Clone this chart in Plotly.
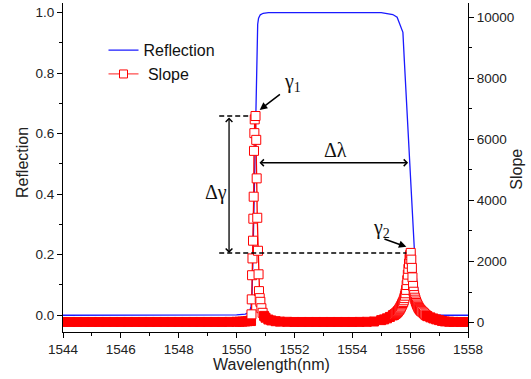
import plotly.graph_objects as go

# ---------------- data ----------------
refl_wl = [1544.0, 1549.0, 1550.0, 1550.3, 1550.45, 1550.50, 1550.53, 1550.56, 1550.60,
           1550.64, 1550.68, 1550.695, 1550.71, 1550.73, 1550.76, 1550.82, 1550.92, 1551.1,
           1555.0, 1555.2, 1555.4, 1555.55, 1555.64, 1555.75, 1555.80, 1555.85, 1555.90,
           1555.95, 1556.00, 1556.05, 1556.10, 1556.15, 1556.22, 1556.30, 1556.40, 1556.50,
           1556.60, 1556.75, 1558.0]
reflection = [0.0, 0.0, 0.001, 0.004, 0.01, 0.03, 0.06, 0.16, 0.35,
              0.53, 0.70, 0.82, 0.92, 0.962, 0.982, 0.993, 0.998, 1.0,
              1.0, 0.998, 0.994, 0.985, 0.963, 0.935, 0.84, 0.745, 0.65,
              0.555, 0.47, 0.40, 0.29, 0.21, 0.12, 0.06, 0.025, 0.01,
              0.003, 0.0, 0.0]

slope_wl = [1544.00, 1544.25, 1544.50, 1544.75, 1545.00, 1545.25, 1545.50, 1545.75,
            1546.00, 1546.25, 1546.50, 1546.75, 1547.00, 1547.25, 1547.50, 1547.75,
            1548.00, 1548.25, 1548.50, 1548.75, 1549.00, 1549.25, 1549.50, 1549.75,
            1550.00, 1550.10, 1550.20, 1550.30, 1550.38, 1550.44, 1550.48,
            1550.500, 1550.515, 1550.525, 1550.535, 1550.550, 1550.568, 1550.580,
            1550.592, 1550.602, 1550.615, 1550.628, 1550.655, 1550.680, 1550.695,
            1550.715, 1550.740, 1550.760, 1550.775, 1550.800, 1550.823, 1550.858,
            1550.90, 1550.95, 1551.00, 1551.10, 1551.20, 1551.35, 1551.50, 1551.75,
            1552.00, 1552.25, 1552.50, 1552.75, 1553.00, 1553.25, 1553.50, 1553.75,
            1554.00, 1554.25, 1554.50, 1554.75, 1555.00, 1555.10, 1555.20, 1555.30,
            1555.40, 1555.42, 1555.44, 1555.46, 1555.48, 1555.50, 1555.52, 1555.54,
            1555.56, 1555.58, 1555.60, 1555.62, 1555.64, 1555.66, 1555.68, 1555.70,
            1555.72, 1555.74, 1555.76, 1555.78, 1555.80, 1555.82, 1555.84, 1555.86,
            1555.88, 1555.90, 1555.92, 1555.94, 1555.96, 1555.98, 1556.00, 1556.02,
            1556.04, 1556.06, 1556.08, 1556.10, 1556.12, 1556.14, 1556.16, 1556.18,
            1556.20, 1556.22, 1556.24, 1556.26, 1556.28, 1556.30, 1556.32, 1556.34,
            1556.36, 1556.38, 1556.40, 1556.44, 1556.48, 1556.52, 1556.56, 1556.60,
            1556.70, 1556.80, 1556.90, 1557.00, 1557.10, 1557.20, 1557.35, 1557.50,
            1557.75, 1558.00]
slope = [20, 20, 20, 20, 20, 20, 20, 20,
         20, 20, 20, 20, 20, 20, 20, 20,
         20, 20, 20, 20, 20, 20, 20, 22,
         25, 28, 32, 38, 45, 55, 60,
         50, 270, 760, 1550, 2100, 2680, 3400,
         4120, 5620, 6200, 6650, 6760, 5980, 4720,
         3430, 2350, 1580, 1030, 800, 680, 470,
         320, 220, 160, 100, 70, 45, 32, 25,
         20, 20, 20, 20, 20, 20, 20, 20,
         20, 22, 25, 36, 80, 105, 140, 185,
         235, 245, 255, 265, 280, 295, 310, 330,
         350, 372, 396, 420, 450, 485, 520, 560,
         600, 640, 675, 730, 800, 880, 960, 1070,
         1230, 1390, 1570, 1760, 1930, 2090, 2210, 2280,
         2060, 1790, 1480, 1200, 1010, 900, 815, 750,
         690, 640, 595, 555, 515, 480, 450, 425,
         405, 385, 365, 335, 300, 262, 232, 210,
         170, 135, 105, 80, 55, 38, 28, 22,
         20, 20]

x_tick_vals = [1544, 1546, 1548, 1550, 1552, 1554, 1556, 1558]
refl_tick_vals = [0.0, 0.2, 0.4, 0.6, 0.8, 1.0]
slope_tick_vals = [0, 2000, 4000, 6000, 8000, 10000]

# ---------------- derived quantities ----------------
peak1_i = max(range(0, 60), key=lambda i: slope[i])
peak2_i = max(range(60, len(slope)), key=lambda i: slope[i])
p1x, p1y = slope_wl[peak1_i], slope[peak1_i]
p2x, p2y = slope_wl[peak2_i], slope[peak2_i]

RED = "#ff0000"
fills = [RED if v < 260 else "white" for v in slope]

fig = go.Figure()
fig.add_trace(go.Scatter(
    x=refl_wl, y=reflection, mode="lines", name="Reflection",
    line=dict(color="#1a1aff", width=1.3)))
fig.add_trace(go.Scatter(
    x=slope_wl, y=slope, yaxis="y2", mode="lines+markers", showlegend=False,
    line=dict(color=RED, width=1.3),
    marker=dict(symbol="square", size=9, color=fills, line=dict(color=RED, width=1))))
fig.add_trace(go.Scatter(
    x=[None], y=[None], yaxis="y2", mode="lines+markers", name=" Slope",
    line=dict(color="#ff4d4d", width=1.3),
    marker=dict(symbol="square", size=8, color="white", line=dict(color=RED, width=1))))

axis_common = dict(
    showline=True, linecolor="black", linewidth=1, showgrid=False, zeroline=False,
    ticks="outside", ticklen=5, tickwidth=1, tickcolor="black", automargin=False,
    tickfont=dict(size=13.5, color="#222"),
)

fig.update_layout(
    template="none",
    width=531, height=379,
    margin=dict(l=63, r=63, t=3, b=47, autoexpand=False),
    paper_bgcolor="white", plot_bgcolor="white",
    font=dict(family="Liberation Sans, Arial, sans-serif", color="#222"),
    xaxis=dict(range=[1544, 1558], tickvals=x_tick_vals,
               minor=dict(dtick=1, tick0=1544, ticks="outside", ticklen=3, tickcolor="black"),
               **axis_common),
    yaxis=dict(range=[-0.0554, 1.032], tickvals=refl_tick_vals, tickformat=".1f",
               minor=dict(dtick=0.1, tick0=0, ticks="outside", ticklen=3, tickcolor="black"),
               **axis_common),
    yaxis2=dict(range=[-308, 10459], overlaying="y", side="right",
                tickvals=slope_tick_vals, tickformat="d",
                minor=dict(dtick=1000, tick0=0, ticks="outside", ticklen=3, tickcolor="black"),
                **axis_common),
    legend=dict(x=0.10, y=0.908, xanchor="left", yanchor="top",
                bgcolor="rgba(0,0,0,0)", font=dict(size=16, color="#111")),
    showlegend=True,
)

# dashed guide lines at the two peak levels
fig.add_shape(type="line", xref="x", yref="y2", x0=1549.4, x1=p1x - 0.2, y0=p1y, y1=p1y,
              line=dict(color="black", width=1.5, dash="5px,3px"))
fig.add_shape(type="line", xref="x", yref="y2", x0=1549.4, x1=p2x - 0.15, y0=p2y, y1=p2y,
              line=dict(color="black", width=1.5, dash="5px,3px"))

title_font = dict(size=16, color="#222")
greek = dict(family="Liberation Serif, Times New Roman, serif", size=20, color="#111")
ann = []
# axis titles
ann.append(dict(x=-0.100, y=0.515, xref="paper", yref="paper", text="Reflection",
                xanchor="center", yanchor="middle",
                textangle=-90, showarrow=False, font=title_font))
ann.append(dict(x=1.120, y=0.495, xref="paper", yref="paper", text="Slope",
                xanchor="center", yanchor="middle",
                textangle=-90, showarrow=False, font=title_font))
ann.append(dict(x=0.515, y=-0.100, xref="paper", yref="paper", text="Wavelength(nm)",
                xanchor="center", yanchor="middle",
                showarrow=False, font=title_font))
# greek labels
ann.append(dict(x=1551.95, y=7850, xref="x", yref="y2", text="γ<sub>1</sub>",
                showarrow=False, font=greek))
ann.append(dict(x=1555.02, y=3092, xref="x", yref="y2", text="γ<sub>2</sub>",
                showarrow=False, font=greek))
ann.append(dict(x=1549.28, y=4270, xref="x", yref="y2", text="Δγ",
                showarrow=False, font=greek))
ann.append(dict(x=1553.41, y=0.545, xref="x", yref="y", text="Δλ",
                showarrow=False, font=greek))
# arrows
ann.append(dict(x=1550.80, y=6961, xref="x", yref="y2", ax=1551.55, ay=7508,
                axref="x", ayref="y2", text="", showarrow=True,
                arrowhead=2, arrowsize=1, arrowwidth=1.5, arrowcolor="black"))
ann.append(dict(x=1555.87, y=2479, xref="x", yref="y2", ax=1555.06, ay=2754,
                axref="x", ayref="y2", text="", showarrow=True,
                arrowhead=2, arrowsize=1, arrowwidth=1.5, arrowcolor="black"))
ann.append(dict(x=1555.93, y=0.504, xref="x", yref="y", ax=1550.74, ay=0.504,
                axref="x", ayref="y", text="", showarrow=True, arrowside="end+start",
                arrowhead=4, startarrowhead=4, arrowsize=1, startarrowsize=1,
                arrowwidth=1.3, arrowcolor="black"))
ann.append(dict(x=1549.74, y=p2y, xref="x", yref="y2", ax=1549.74, ay=p1y,
                axref="x", ayref="y2", text="", showarrow=True, arrowside="end+start",
                arrowhead=4, startarrowhead=4, arrowsize=1, startarrowsize=1,
                arrowwidth=1.3, arrowcolor="black"))
fig.update_layout(annotations=ann)

fig.write_html("out.html", config={"displayModeBar": False},
               post_script="document.body.style.margin='0px';document.body.style.padding='0px';")
